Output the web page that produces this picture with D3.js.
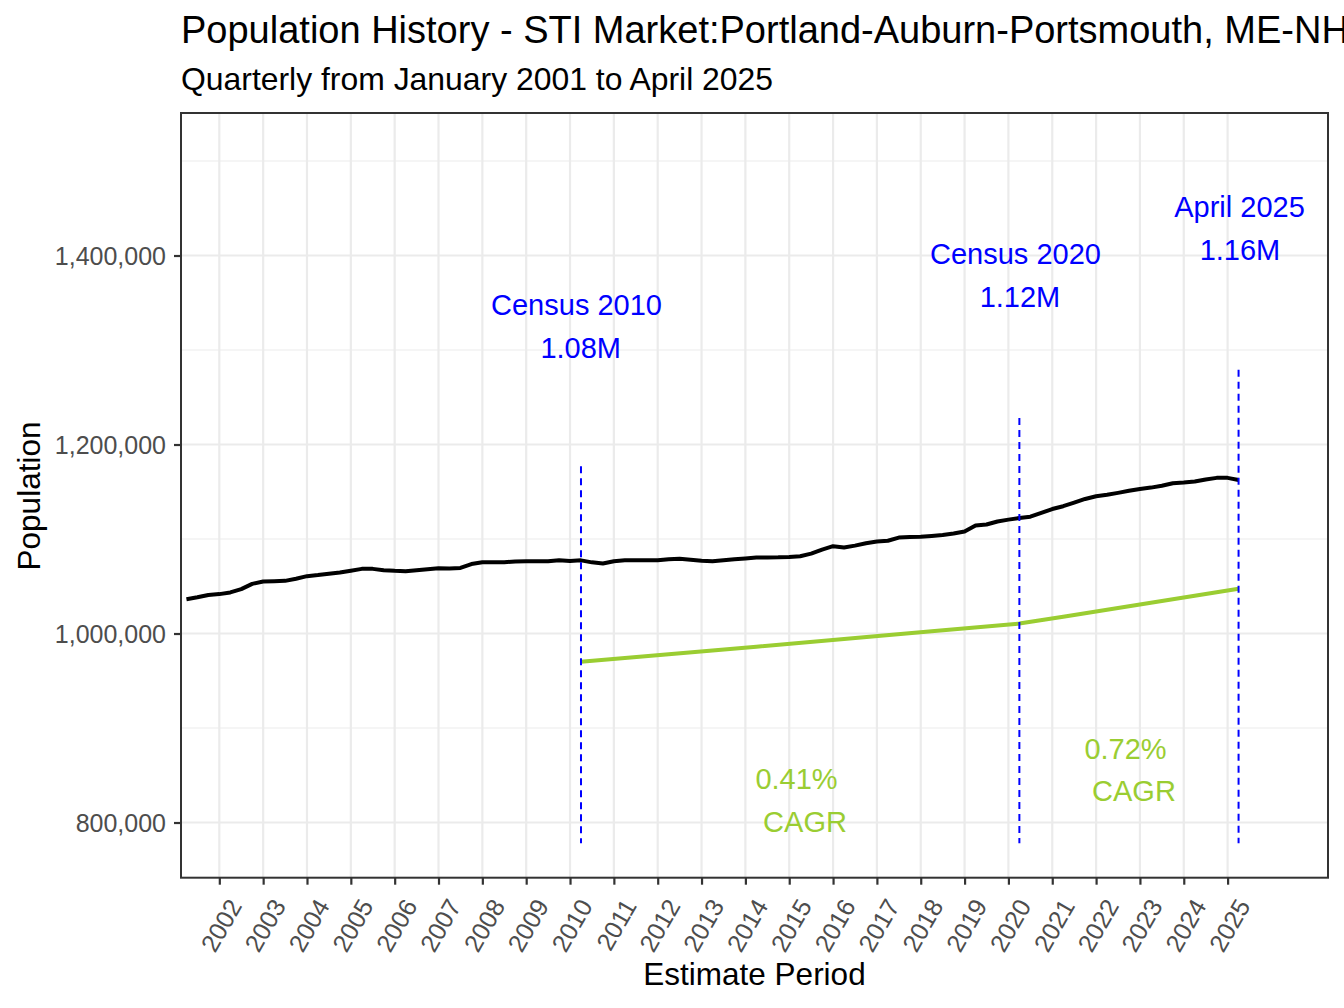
<!DOCTYPE html>
<html>
<head>
<meta charset="utf-8">
<script src="https://cdn.jsdelivr.net/npm/d3@7"></script>
<style>
  html, body { margin: 0; padding: 0; background: #fff; }
  svg { display: block; font-family: "Liberation Sans", Arial, sans-serif; }
</style>
</head>
<body>
<svg id="chart" width="1344" height="1008"></svg>
<script>
// quarterly estimates, first point April 2001 (decimal year 2001.25)
const firstQuarter = 2001.25;
const population = [
  1036300, 1038300, 1040800, 1041700, 1043500, 1047000, 1052500, 1055000,
  1055400, 1055700, 1058000, 1060700, 1061800, 1063200, 1064500, 1066500,
  1068400, 1068400, 1067000, 1066300, 1065900, 1067000, 1068000, 1069000,
  1068900, 1069400, 1073500, 1075400, 1075400, 1075400, 1076300, 1076500,
  1076500, 1076500, 1077600, 1076800, 1077400, 1075300, 1074000, 1076500,
  1077400, 1077600, 1077600, 1077600, 1078600, 1079000, 1078000, 1077000,
  1076500, 1077500, 1078700, 1079500, 1080400, 1080500, 1080600, 1081000,
  1081800, 1084500, 1088800, 1092400, 1091000, 1093000, 1095500, 1097300,
  1098200, 1101500, 1102000, 1102300, 1103300, 1104300, 1105800, 1108000,
  1114400, 1115300, 1118500, 1120500, 1122200, 1123600, 1127600, 1131700,
  1134700, 1138500, 1142400, 1145200, 1146800, 1148800, 1151000, 1153000,
  1154400, 1156400, 1159000, 1159700, 1160800, 1162900, 1164700, 1164700,
  1162500
];

// CAGR trend line
const trendYears = [2010.25, 2012.25, 2014.25, 2016.25, 2018.25, 2020.25, 2021.25, 2022.25, 2023.25, 2024.25, 2025.25];
const trendValues = [970000, 978000, 986000, 994200, 1002300, 1010500, 1017700, 1025100, 1032500, 1039900, 1047400];

// reference markers: census 2010, census 2020, latest estimate
const markerYears = [2010.25, 2020.25, 2025.25];
const markerTops = [1177000, 1228000, 1279000];
const markerBottom = 778000;

const labelTexts = ['Census 2010', '1.08M', 'Census 2020', '1.12M', 'April 2025', '1.16M'];
const labelYears = [2010.148, 2010.244, 2020.161, 2020.264, 2025.271, 2025.282];
const labelValues = [1347400, 1302400, 1401900, 1356400, 1451600, 1406100];

const cagrTexts = ['0.41%', 'CAGR', '0.72%', 'CAGR'];
const cagrYears = [2015.166, 2015.36, 2022.671, 2022.864];
const cagrValues = [846400, 800900, 878100, 833700];

const xTicks = d3.range(2002, 2026);
const yTicks = [800000, 1000000, 1200000, 1400000];
const yMinor = [900000, 1100000, 1300000, 1500000];

const svg = d3.select('#chart');
const panel = { left: 181, right: 1328, top: 113, bottom: 877.7 };

const x = d3.scaleLinear().domain([2001.126, 2027.29]).range([panel.left, panel.right]);
const y = d3.scaleLinear().domain([741600, 1550800]).range([panel.bottom, panel.top]);

const series = population.map((v, i) => ({ year: firstQuarter + i * 0.25, value: v }));
const trend = trendYears.map((yr, i) => ({ year: yr, value: trendValues[i] }));

// Title block (the long title runs off the right edge, as in the source)
svg.append('text')
  .attr('x', 181).attr('y', 43)
  .style('font-size', '38px').style('fill', '#000')
  .text('Population History - STI Market:Portland-Auburn-Portsmouth, ME-NH');

svg.append('text')
  .attr('x', 181).attr('y', 90)
  .style('font-size', '31.9px').style('fill', '#000')
  .text('Quarterly from January 2001 to April 2025');

// Grid
const grid = svg.append('g');
grid.selectAll('.ymin').data(yMinor).enter().append('line')
  .attr('x1', panel.left).attr('x2', panel.right)
  .attr('y1', d => y(d)).attr('y2', d => y(d))
  .style('stroke', '#EBEBEB').style('stroke-width', 1.1);
grid.selectAll('.ymaj').data(yTicks).enter().append('line')
  .attr('x1', panel.left).attr('x2', panel.right)
  .attr('y1', d => y(d)).attr('y2', d => y(d))
  .style('stroke', '#EBEBEB').style('stroke-width', 2.2);
grid.selectAll('.xmaj').data(xTicks).enter().append('line')
  .attr('x1', d => x(d)).attr('x2', d => x(d))
  .attr('y1', panel.top).attr('y2', panel.bottom)
  .style('stroke', '#EBEBEB').style('stroke-width', 2.2);

// Data layer, clipped to panel
svg.append('clipPath').attr('id', 'clip').append('rect')
  .attr('x', panel.left).attr('y', panel.top)
  .attr('width', panel.right - panel.left).attr('height', panel.bottom - panel.top);
const plot = svg.append('g').attr('clip-path', 'url(#clip)');

const line = d3.line().x(d => x(d.year)).y(d => y(d.value));

plot.append('path').datum(series)
  .attr('d', line)
  .style('fill', 'none').style('stroke', '#000')
  .style('stroke-width', 4).style('stroke-linejoin', 'round');

plot.append('path').datum(trend)
  .attr('d', line)
  .style('fill', 'none').style('stroke', '#9ACD32')
  .style('stroke-width', 4).style('stroke-linejoin', 'round');

plot.selectAll('.marker').data(markerYears).enter().append('line')
  .attr('x1', d => x(d)).attr('x2', d => x(d))
  .attr('y1', (d, i) => y(markerTops[i])).attr('y2', y(markerBottom))
  .style('stroke', '#0000FF').style('stroke-width', 2)
  .style('stroke-dasharray', '7,5');

plot.selectAll('.lbl').data(labelTexts).enter().append('text')
  .attr('x', (d, i) => x(labelYears[i]))
  .attr('y', (d, i) => y(labelValues[i]))
  .attr('dy', '0.35em')
  .style('text-anchor', 'middle')
  .style('font-size', '29px').style('fill', '#0000FF')
  .text(d => d);

plot.selectAll('.cagr').data(cagrTexts).enter().append('text')
  .attr('x', (d, i) => x(cagrYears[i]))
  .attr('y', (d, i) => y(cagrValues[i]))
  .attr('dy', '0.35em')
  .style('text-anchor', 'middle')
  .style('font-size', '29px').style('fill', '#9ACD32')
  .text(d => d);

// Axes
const xAxis = svg.append('g')
  .attr('transform', `translate(0,${panel.bottom})`)
  .call(d3.axisBottom(x).tickValues(xTicks).tickFormat(d3.format('d')).tickSize(7).tickSizeOuter(0));
xAxis.select('.domain').remove();
xAxis.selectAll('line').style('stroke', '#333333').style('stroke-width', 2.2);
xAxis.selectAll('text')
  .attr('x', null).attr('y', null).attr('dy', null)
  .attr('transform', 'translate(23,28) rotate(-60)')
  .style('text-anchor', 'end')
  .style('font-size', '25px').style('fill', '#4D4D4D')
  .style('font-family', '"Liberation Sans", Arial, sans-serif');

const yAxis = svg.append('g')
  .attr('transform', `translate(${panel.left},0)`)
  .call(d3.axisLeft(y).tickValues(yTicks).tickFormat(d3.format(',')).tickSize(7).tickPadding(8).tickSizeOuter(0));
yAxis.select('.domain').remove();
yAxis.selectAll('line').style('stroke', '#333333').style('stroke-width', 2.2);
yAxis.selectAll('text')
  .attr('dy', '0.35em')
  .style('font-size', '25px').style('fill', '#4D4D4D')
  .style('font-family', '"Liberation Sans", Arial, sans-serif');

// Panel border
svg.append('rect')
  .attr('x', panel.left).attr('y', panel.top)
  .attr('width', panel.right - panel.left).attr('height', panel.bottom - panel.top)
  .style('fill', 'none').style('stroke', '#333333').style('stroke-width', 2);

// Axis titles
svg.append('text')
  .attr('x', (panel.left + panel.right) / 2).attr('y', 985)
  .style('text-anchor', 'middle').style('font-size', '31.5px').style('fill', '#000')
  .text('Estimate Period');

svg.append('text')
  .attr('transform', 'translate(40,496) rotate(-90)')
  .style('text-anchor', 'middle').style('font-size', '31.5px').style('fill', '#000')
  .text('Population');
</script>
</body>
</html>
